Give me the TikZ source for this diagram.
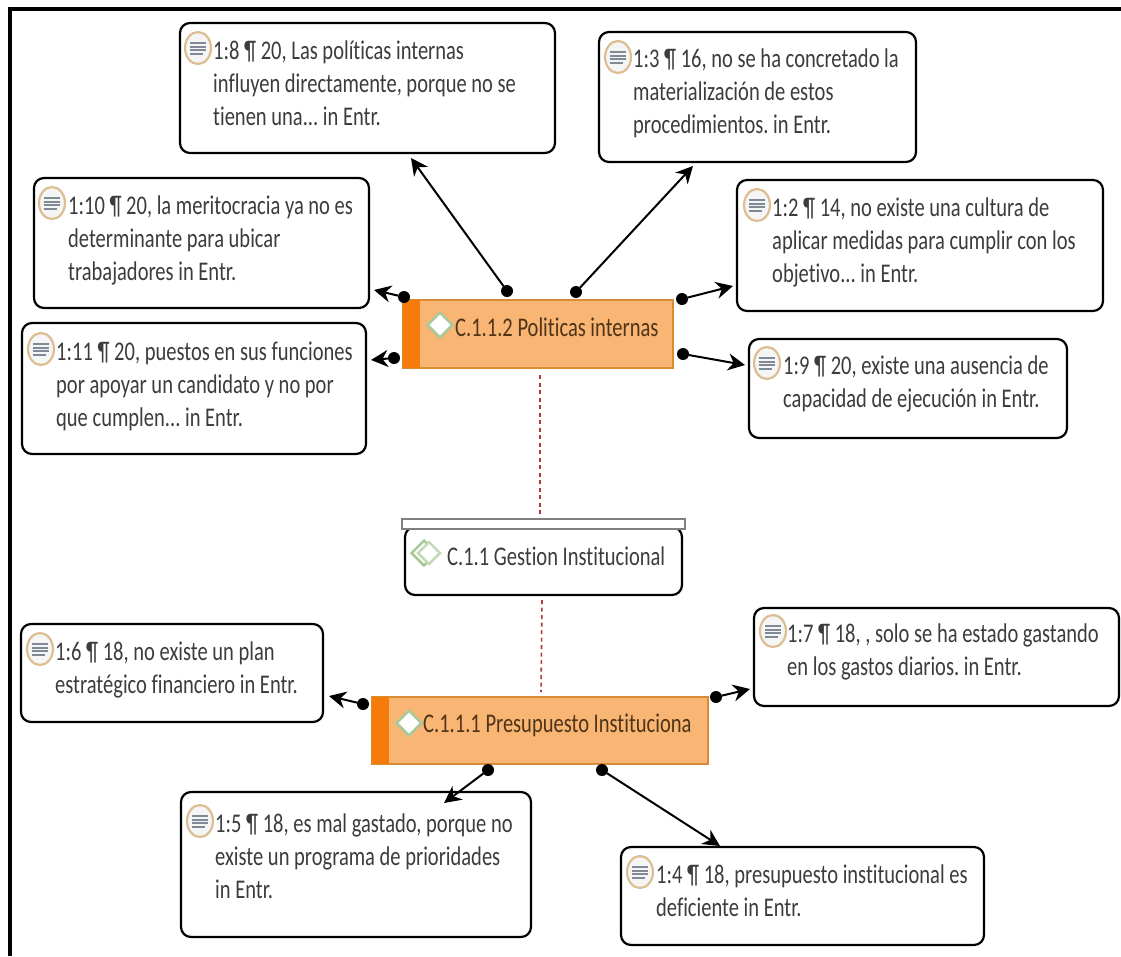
\documentclass[tikz,border=0pt]{standalone}
\usepackage{fontspec}
\setmainfont[FakeStretch=0.76,RawFeature={-liga}]{Carlito}
\usetikzlibrary{shapes.geometric,arrows.meta}
\definecolor{txtgray}{HTML}{3C3C3C}
\definecolor{codefill}{HTML}{F8B573}
\definecolor{codeline}{HTML}{D98C33}
\definecolor{codebar}{HTML}{F57C0A}
\definecolor{codetxt}{HTML}{4F3418}
\definecolor{ringcol}{HTML}{DDBE92}
\definecolor{linecol}{HTML}{7F8A96}
\definecolor{greencol}{HTML}{A9C99A}
\definecolor{relcol}{HTML}{B23A3A}
\begin{document}
\frenchspacing
\begin{tikzpicture}[x=1pt,y=-1pt]
\tikzstyle{quote}=[draw=black,line width=2.2pt,rounded corners=10pt,fill=white,inner sep=0pt,outer sep=0pt];
\tikzstyle{txt}=[anchor=north west,align=left,inner sep=0pt,text=txtgray,font=\fontsize{27}{33}\selectfont];
\tikzstyle{icon}=[ellipse,draw=ringcol,line width=2.2pt,fill=gray!8,minimum width=26pt,minimum height=32pt,inner sep=0pt,
  path picture={\foreach \i/\w in {-5/8,-1.5/8,2/8,5.5/5} {\draw [linecol,line width=2pt] (-8,\i) -- (\w,\i);}}];
\tikzstyle{code}=[draw=codeline,line width=1.5pt,fill=codefill,inner sep=0pt,outer sep=0pt];
\tikzstyle{bar}=[fill=codebar,inner sep=0pt,outer sep=0pt];
\tikzstyle{codetext}=[inner sep=0pt,anchor=west,font=\fontsize{27}{30}\selectfont];
\tikzstyle{gem}=[diamond,draw=greencol,line width=2.5pt,fill=white,minimum width=26pt,minimum height=26pt,inner sep=0pt];
\tikzstyle{dot}=[circle,fill=black,minimum size=12pt,inner sep=0pt,outer sep=0pt];
\tikzstyle{link}=[-{Stealth[length=17pt,width=17pt]},line width=2pt];
\tikzstyle{rel}=[relcol,line width=1.6pt,dash pattern=on 4pt off 3.5pt];
\useasboundingbox (0,0) rectangle (1121,956);
\fill [white] (0,0) rectangle (1121,956);
\coordinate (fa) at (10,956);
\coordinate (fb) at (10,9);
\coordinate (fc) at (1121,9);
\draw [line width=4.5pt] (fa) -- (fb) -- (fc);

\node [quote,minimum width=375pt,minimum height=130pt] (n8) at (367.5,88) {};
\node [txt] (t8) at (213,41) {1:8 ¶ 20, Las políticas internas\\influyen directamente, porque no se\\tienen una... in Entr.};
\node [icon] (i8) at (198,48) {};
\node [quote,minimum width=317pt,minimum height=130pt] (n3) at (757.5,97) {};
\node [txt] (t3) at (633,49) {1:3 ¶ 16, no se ha concretado la\\materialización de estos\\procedimientos. in Entr.};
\node [icon] (i3) at (618,57) {};
\node [quote,minimum width=335pt,minimum height=130pt] (n10) at (201.5,243) {};
\node [txt] (t10) at (68,196) {1:10 ¶ 20, la meritocracia ya no es\\determinante para ubicar\\trabajadores in Entr.};
\node [icon] (i10) at (52,203) {};
\node [quote,minimum width=366pt,minimum height=131pt] (n2) at (920,245.5) {};
\node [txt] (t2) at (772,198) {1:2 ¶ 14, no existe una cultura de\\aplicar medidas para cumplir con los\\objetivo... in Entr.};
\node [icon] (i2) at (757,205) {};
\node [quote,minimum width=344pt,minimum height=131pt] (n11) at (194,388.5) {};
\node [txt] (t11) at (56,342) {1:11 ¶ 20, puestos en sus funciones\\por apoyar un candidato y no por\\que cumplen... in Entr.};
\node [icon] (i11) at (41,349) {};
\node [quote,minimum width=318pt,minimum height=99pt] (n9) at (908,388.5) {};
\node [txt] (t9) at (783,356) {1:9 ¶ 20, existe una ausencia de\\capacidad de ejecución in Entr.};
\node [icon] (i9) at (767,363) {};

\node [code,minimum width=270pt,minimum height=68pt] (pol) at (538,334) {};
\node [bar,minimum width=17pt,minimum height=68pt] (polbar) at (411.5,334) {};
\node [gem] (polgem) at (440,325) {};
\node [codetext,text=codetxt] (poltxt) at (455,327) {C.1.1.2 Politicas internas};

% gestion box
\node [quote,minimum width=277pt,minimum height=68pt] (ges) at (543.5,561) {};
\node [draw=gray,line width=2pt,fill=white,minimum width=283pt,minimum height=10pt,inner sep=0pt] (geshead) at (543.5,524) {};
\node [gem,minimum width=26pt,minimum height=26pt] (gesgema) at (424,553) {};
\node [gem,minimum width=23pt,minimum height=23pt,draw=greencol!70] (gesgemb) at (429,553) {};
\node [codetext,text=txtgray] (gestxt) at (447,556) {C.1.1 Gestion Institucional};

\node [code,minimum width=336pt,minimum height=67pt] (pre) at (540,730.5) {};
\node [bar,minimum width=17pt,minimum height=67pt] (prebar) at (380.5,730.5) {};
\node [gem] (pregem) at (409,723) {};
\node [codetext,text=codetxt] (pretxt) at (423,725) {C.1.1.1 Presupuesto Instituciona};

\node [quote,minimum width=302pt,minimum height=98pt] (n6) at (172,673) {};
\node [txt] (t6) at (55,642) {1:6 ¶ 18, no existe un plan\\estratégico financiero in Entr.};
\node [icon] (i6) at (40,649) {};
\node [quote,minimum width=365pt,minimum height=98pt] (n7) at (936.5,657) {};
\node [txt] (t7) at (787,624) {1:7 ¶ 18, , solo se ha estado gastando\\en los gastos diarios. in Entr.};
\node [icon] (i7) at (773,631) {};
\node [quote,minimum width=350pt,minimum height=145pt] (n5) at (356,864.5) {};
\node [txt] (t5) at (215,814) {1:5 ¶ 18, es mal gastado, porque no\\existe un programa de prioridades\\in Entr.};
\node [icon] (i5) at (200,821) {};
\node [quote,minimum width=363pt,minimum height=98pt] (n4) at (802.5,896) {};
\node [txt] (t4) at (656,865) {1:4 ¶ 18, presupuesto institucional es\\deficiente in Entr.};
\node [icon] (i4) at (640,872) {};

% dots and arrow ends
\node [dot] (d8) at (507,291) {};
\coordinate (a8) at (411,158);
\node [dot] (d3) at (576,292) {};
\coordinate (a3) at (693,166);
\node [dot] (d10) at (404,297) {};
\coordinate (a10) at (374,290);
\node [dot] (d11) at (394,358) {};
\coordinate (a11) at (371,360);
\node [dot] (d2) at (682,299) {};
\coordinate (a2) at (733,286);
\node [dot] (d9) at (683,354) {};
\coordinate (a9) at (745,365);
\node [dot] (d6) at (363,704) {};
\coordinate (a6) at (329,696);
\node [dot] (d7) at (716,697) {};
\coordinate (a7) at (750,689);
\node [dot] (d5) at (488,770) {};
\coordinate (a5) at (444,803);
\node [dot] (d4) at (602,770) {};
\coordinate (a4) at (720,846);
\draw [link] (d8) -- (a8);
\draw [link] (d3) -- (a3);
\draw [link] (d10) -- (a10);
\draw [link] (d11) -- (a11);
\draw [link] (d2) -- (a2);
\draw [link] (d9) -- (a9);
\draw [link] (d6) -- (a6);
\draw [link] (d7) -- (a7);
\draw [link] (d5) -- (a5);
\draw [link] (d4) -- (a4);

\coordinate (r1) at (540,375);
\coordinate (r2) at (540,516);
\coordinate (r3) at (542,600);
\coordinate (r4) at (541,692);
\draw [rel] (r1) -- (r2);
\draw [rel] (r3) -- (r4);
\end{tikzpicture}
\end{document}
